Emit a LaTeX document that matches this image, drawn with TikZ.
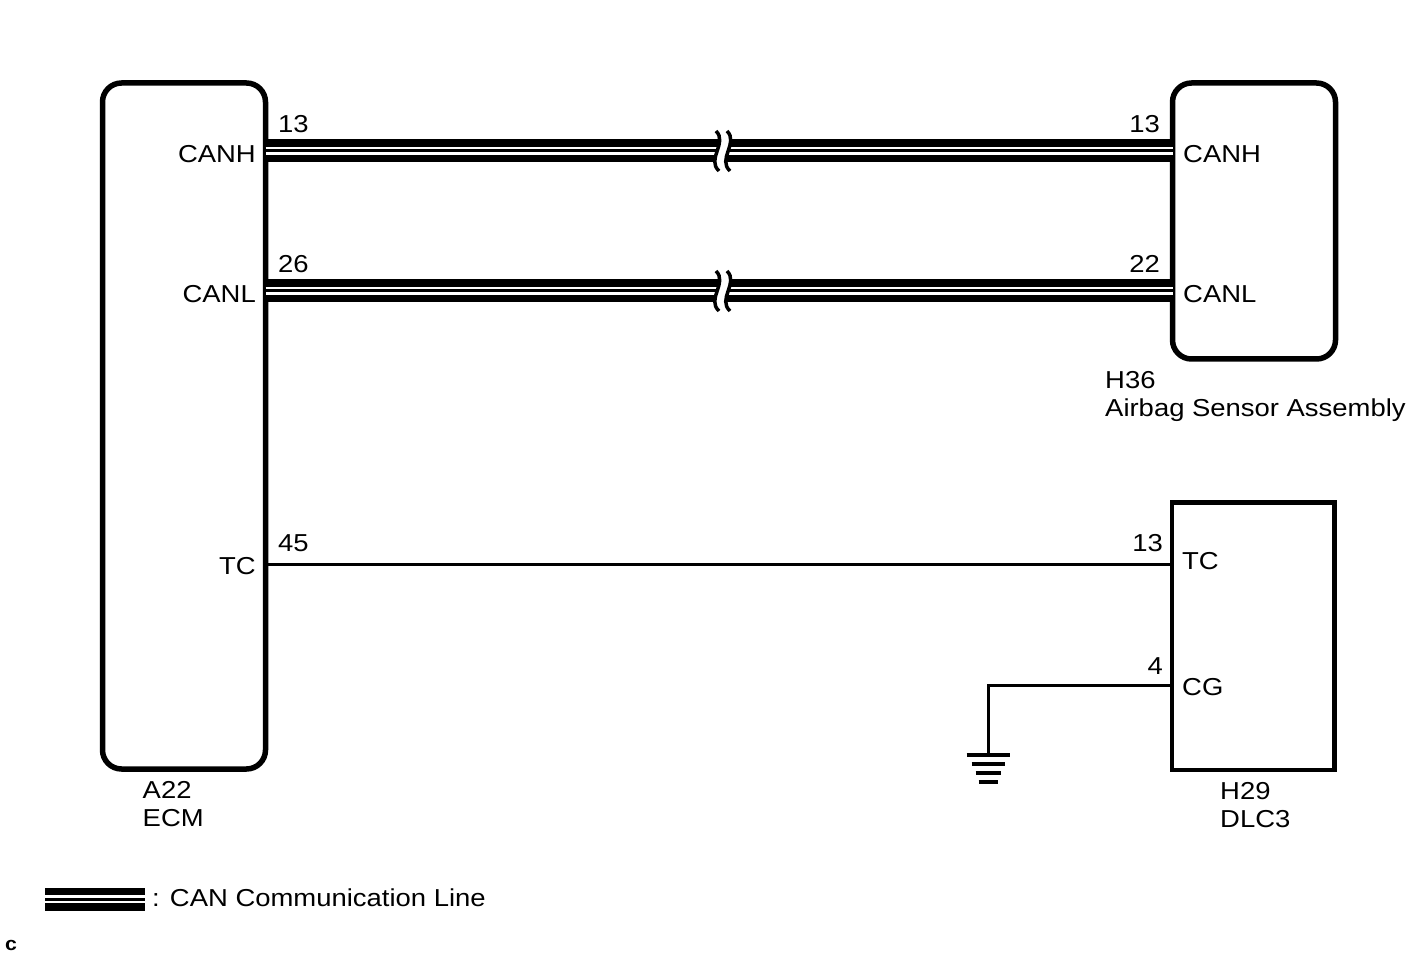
\documentclass[tikz,border=0pt]{standalone}
\usepackage{fontspec}
\setmainfont{Liberation Sans}[FakeStretch=1.12]
\usetikzlibrary{positioning}

\begin{document}
\begin{tikzpicture}[x=1pt, y=-1pt,
    every node/.style={font=\fontsize{24.5}{28.5}\selectfont, inner sep=0pt},
    unit/.style={draw, line width=5.5pt, rounded corners=19pt, outer sep=0pt, minimum width=163pt, anchor=north west},
    plug/.style={draw, line width=4.5pt, outer sep=0pt, minimum width=162.5pt, anchor=north west},
    wire/.style={line width=3pt},
    canline/.style={line width=23pt, postaction={draw, white, line width=8.5pt}, postaction={draw, black, line width=3pt}},
    brk/.style={line width=3.5pt},
    gndbar/.style={line width=4pt}]
  \useasboundingbox (0,0) rectangle (1421,957);

  % Units
  \node[unit, minimum height=686pt] (ecm) at (102.5,83) {};
  \node[unit, minimum height=276pt] (abg) at (1172.5,83) {};
  \node[plug, minimum height=267.5pt] (dlc) at (1172,502.5) {};
  \node[below right=12pt and 40pt of ecm.south west, align=left] (ecmname) {A22\\ECM};
  \node[anchor=north west, align=left] (abgname) at (1105,371) {H36\\Airbag Sensor Assembly};
  \node[below right=12pt and 48pt of dlc.south west, align=left] (dlcname) {H29\\DLC3};

  % Pins
  \coordinate (ecmH) at (ecm.east |- 0,151);
  \coordinate (ecmL) at (ecm.east |- 0,291);
  \coordinate (ecmTC) at (ecm.east |- 0,564);
  \coordinate (abgH) at (abg.west |- 0,151);
  \coordinate (abgL) at (abg.west |- 0,291);
  \coordinate (dlcTC) at (dlc.west |- 0,564);
  \coordinate (dlcCG) at (dlc.west |- 0,685);
  \coordinate (gnd) at (988,755);

  \node[anchor=base east] (ecmHname) at (256,163) {CANH};
  \node[anchor=base east] (ecmLname) at (256,303) {CANL};
  \node[anchor=base east] (ecmTCname) at (256,574) {TC};
  \node[anchor=base west] (ecmHno) at (278,133) {13};
  \node[anchor=base west] (ecmLno) at (278,273) {26};
  \node[anchor=base west] (ecmTCno) at (278,551) {45};
  \node[anchor=base west] (abgHname) at (1183,163) {CANH};
  \node[anchor=base west] (abgLname) at (1183,303) {CANL};
  \node[anchor=base east] (abgHno) at (1160,133) {13};
  \node[anchor=base east] (abgLno) at (1160,273) {22};
  \node[anchor=base west] (dlcTCname) at (1182,569) {TC};
  \node[anchor=base west] (dlcCGname) at (1182,695) {CG};
  \node[anchor=base east] (dlcTCno) at (1163,551) {13};
  \node[anchor=base east] (dlcCGno) at (1163,674) {4};

  % Wires
  \draw[canline] (ecmH) -- (abgH);
  \draw[canline] (ecmL) -- (abgL);
  \draw[wire] (ecmTC) -- (dlcTC);
  \draw[wire] (dlcCG) -| (gnd);

  % Breaks
  \foreach \y in {151,291} {
    \fill[white] (716,\y-20) .. controls (728,\y-8) and (706,\y+8) .. (719,\y+20)
      -- (730,\y+20) .. controls (717,\y+8) and (739,\y-8) .. (727,\y-20) -- cycle;
    \draw[brk] (716,\y-20) .. controls (728,\y-8) and (706,\y+8) .. (719,\y+20);
    \draw[brk] (727,\y-20) .. controls (739,\y-8) and (717,\y+8) .. (730,\y+20);
  }

  % Ground
  \foreach \w [count=\i from 0] in {21.5,16.5,12.5,9.5}
    \draw[gndbar] (gnd) ++(-\w,9*\i) -- ++(2*\w,0);

  % Legend
  \coordinate (legA) at (45,899);
  \coordinate (legB) at (145,899);
  \draw[canline] (legA) -- (legB);
  \node[anchor=base west] (legtxt) at (152,906) {: CAN Communication Line};
  \node[anchor=base west, font=\fontsize{19}{20}\selectfont\bfseries] (figc) at (5,950) {c};
\end{tikzpicture}
\end{document}
